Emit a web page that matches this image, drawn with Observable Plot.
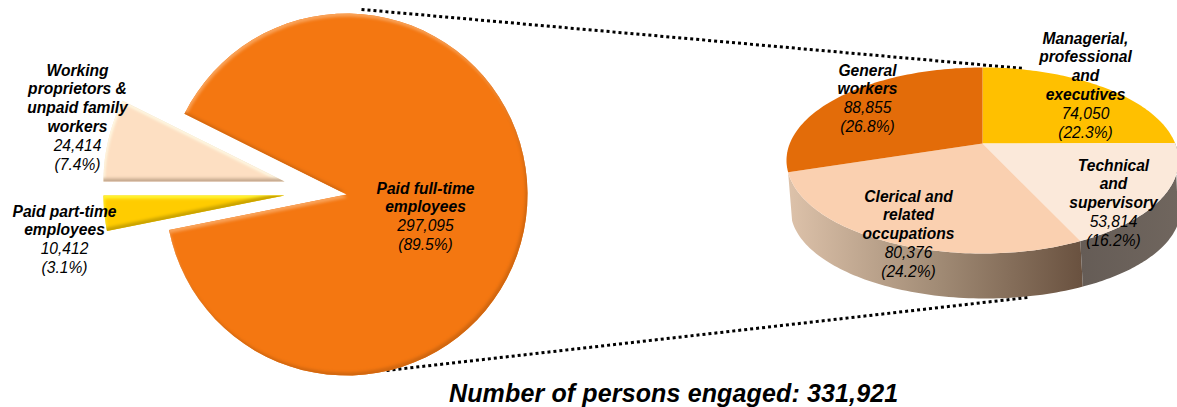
<!DOCTYPE html>
<html><head><meta charset="utf-8">
<script src="https://cdn.jsdelivr.net/npm/d3@7"></script>
<script src="https://cdn.jsdelivr.net/npm/@observablehq/plot@0.6"></script>
<style>
html,body{margin:0;padding:0;background:#fff;overflow:hidden}
#cap{font:italic bold 25px "Liberation Sans",Arial,sans-serif;color:#000;position:absolute;left:449px;top:379px;white-space:nowrap;letter-spacing:.14px}
</style></head><body>
<div id="chart"></div>
<div id="cap"></div>
<script>
// ---- data ----
const totalLabel = "Number of persons engaged: 331,921";
const mainNames = ["Working\nproprietors &\nunpaid family\nworkers", "Paid full-time\nemployees", "Paid part-time\nemployees"];
const mainValues = [24414, 297095, 10412];
const mainShares = [7.4, 89.5, 3.1];
const subNames = ["Managerial,\nprofessional\nand\nexecutives", "Technical\nand\nsupervisory", "Clerical and\nrelated\noccupations", "General\nworkers"];
const subValues = [74050, 53814, 80376, 88855];
const subShares = [22.3, 16.2, 24.2, 26.8];

// ---- styling and layout ----
const W = 1177, H = 378, LH = 18.8;
const mainFills = ["#FDDFC2", "#F47711", "#FFCC00"];
const mainFilters = ["bevelCream", "bevelOrange", "bevelYellow"];
const subFills = ["#FFC000", "#FBE9DA", "#FAD0B0", "#E36C09"];
const main = {cx: 346, cy: 194, r: 181};
const explode = [[-62, -13], [0, 0], [-62, 1]];
const mainLabelAt = [[-269, -124], [79, -6], [-282, 17]];
const sub = {cx: 982, cy: 160, rx: 196, ry: 93, p: 0.183, wallCx: 985, wallCy: 209, wallRx: 195, wallRy: 89};
const subLabelAt = [[103, -122], [131, 5], [-74, 36], [-115, -90]];
const dotted = [[[361, 9], [1023, 68]], [[386, 370], [1027, 297]]];

// ---- geometry from the values ----
const TAU = Math.PI * 2;
const steps = (a0, a1) => d3.range(0, 81).map(i => a0 + (a1 - a0) * i / 80);
const mainPie = d3.pie().sort(null).startAngle(TAU * .75).endAngle(TAU * 1.75)(mainValues);
const subPie = d3.pie().sort(null).startAngle(0).endAngle(TAU)(subValues);

const mainPoly = mainPie.map((s, i) => {
  const cx = main.cx + explode[i][0], cy = main.cy + explode[i][1];
  return [{x: cx, y: cy}, ...steps(s.startAngle, s.endAngle).map(a => ({x: cx + main.r * Math.sin(a), y: cy - main.r * Math.cos(a)}))];
});
// perspective: chords of the ellipse all meet at an off-centre apex
function persp(a, cx, cy, rx, ry) {
  const X = Math.sin(a), Y = Math.cos(a), d = 1 + sub.p * Y, q = Math.sqrt(1 - sub.p * sub.p);
  return {x: cx + rx * X * q / d, y: cy - ry * (Y + sub.p) / d};
}
const subApex = {x: sub.cx, y: sub.cy - sub.ry * sub.p};
const subPoly = subPie.map(s => [subApex, ...steps(s.startAngle, s.endAngle).map(a => persp(a, sub.cx, sub.cy, sub.rx, sub.ry))]);
const wallPoly = [1, 2].map(i => {
  const as = steps(subPie[i].startAngle, subPie[i].endAngle);
  return [...as.map(a => persp(a, sub.cx, sub.cy, sub.rx, sub.ry)), ...as.slice().reverse().map(a => persp(a, sub.wallCx, sub.wallCy, sub.wallRx, sub.wallRy))];
});

// ---- labels ----
const fmt = d3.format(",");
function rows(names, values, shares, ox, oy) {
  return names.flatMap((n, i) => {
    const o = [ox[i], oy[i]];
    const nameLines = n.split("\n");
    const lines = [...nameLines.map(t => ({t, bold: true})), {t: fmt(values[i]), bold: false}, {t: `(${shares[i].toFixed(1)}%)`, bold: false}];
    return lines.map((l, k) => ({...l, x: o[0], y: o[1] + k * LH}));
  });
}
const labels = [
  ...rows(mainNames, mainValues, mainShares, mainLabelAt.map(d => main.cx + d[0]), mainLabelAt.map(d => main.cy + d[1])),
  ...rows(subNames, subValues, subShares, subLabelAt.map(d => sub.cx + d[0]), subLabelAt.map(d => sub.cy + d[1]))
];

// ---- svg defs ----
function bevel(id, hi, lo) {
  return `<filter id="${id}" x="-10%" y="-10%" width="120%" height="120%" color-interpolation-filters="sRGB">
    <feGaussianBlur in="SourceAlpha" stdDeviation="1.6" result="b"/>
    <feOffset in="b" dx="0.8" dy="3" result="o1"/>
    <feComposite in="SourceAlpha" in2="o1" operator="out" result="m1"/>
    <feFlood flood-color="${hi}"/><feComposite in2="m1" operator="in" result="h"/>
    <feOffset in="b" dx="-1.6" dy="-2.6" result="o2"/>
    <feComposite in="SourceAlpha" in2="o2" operator="out" result="m2"/>
    <feFlood flood-color="${lo}"/><feComposite in2="m2" operator="in" result="l"/>
    <feMerge><feMergeNode in="SourceGraphic"/><feMergeNode in="h"/><feMergeNode in="l"/></feMerge>
  </filter>`;
}
const defs = () => {
  const g = document.createElementNS("http://www.w3.org/2000/svg", "defs");
  g.innerHTML = bevel("bevelOrange", "#F9A35A", "#D0660F") + bevel("bevelCream", "#FFFBE6", "#C4A88E") + bevel("bevelYellow", "#FFF533", "#C9A200") +
    `<linearGradient id="wallClerical" x1="0" x2="1" y1="0" y2="0"><stop offset="0" stop-color="#DDC2AA"/><stop offset="0.5" stop-color="#A28C76"/><stop offset="1" stop-color="#69513F"/></linearGradient>
     <linearGradient id="wallTechnical" x1="0" x2="1" y1="0" y2="0"><stop offset="0" stop-color="#655C56"/><stop offset="1" stop-color="#70665E"/></linearGradient>`;
  return g;
};

const poly = (pts, fill, extra = {}) => Plot.line(pts, {x: "x", y: "y", fill, stroke: "none", curve: "linear", ...extra});
const font = '"Liberation Sans", Arial, sans-serif';

const chart = Plot.plot({
  width: W, height: H, margin: 0,
  x: {domain: [0, W], range: [0, W], axis: null},
  y: {domain: [0, H], range: [0, H], axis: null},
  marks: [
    defs,
    ...dotted.map(d => Plot.line(d.map(([x, y]) => ({x, y})), {x: "x", y: "y", stroke: "#000", strokeWidth: 3, strokeDasharray: "3 3", strokeLinecap: "butt"})),
    ...mainPoly.map((p, i) => poly(p, mainFills[i], {imageFilter: `url(#${mainFilters[i]})`})),
    poly(wallPoly[1], "url(#wallClerical)"),
    poly(wallPoly[0], "url(#wallTechnical)"),
    ...subPoly.map((p, i) => poly(p, subFills[i])),
    Plot.text(labels.filter(d => d.bold), {x: "x", y: "y", text: "t", fontFamily: font, fontSize: 15.6, fontWeight: "bold", fontStyle: "italic", fill: "#000"}),
    Plot.text(labels.filter(d => !d.bold), {x: "x", y: "y", text: "t", fontFamily: font, fontSize: 15.6, fontStyle: "italic", fill: "#000"})
  ]
});
document.getElementById("chart").append(chart);
document.getElementById("cap").textContent = totalLabel;
</script>
</body></html>
